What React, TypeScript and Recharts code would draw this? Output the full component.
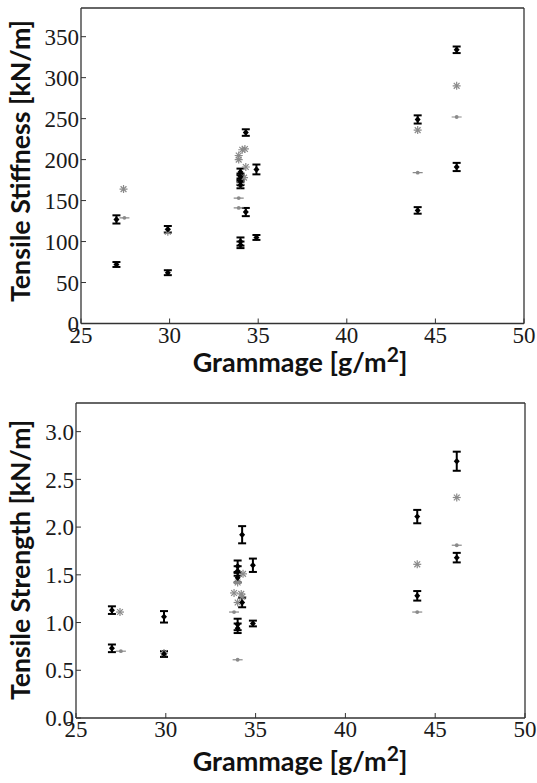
import React from "react";
import { ScatterChart, Scatter, XAxis, YAxis, ErrorBar } from "recharts";

// ---------- data ----------
const xTicks = [25, 30, 35, 40, 45, 50];
const stiffTicks = [0, 50, 100, 150, 200, 250, 300, 350];
const strTicks = [0, 0.5, 1.0, 1.5, 2.0, 2.5, 3.0];

// Tensile stiffness – measured (mean ± error)
const stiffMeasX = [27.0, 27.0, 29.9, 29.9, 34.0, 34.0, 34.0, 34.0, 34.0, 34.0, 34.3, 34.3, 34.9, 34.9, 44.0, 44.0, 46.2, 46.2];
const stiffMeasY = [127, 72, 115, 62, 185, 179, 173, 169, 100, 96, 233, 136, 188, 105, 249, 138, 334, 191];
const stiffMeasErr = [5, 3, 4, 3, 4, 4, 4, 4, 5, 4, 4, 5, 6, 3, 5, 4, 4, 5];
// Tensile stiffness – model A (asterisks)
const stiffStarX = [27.4, 29.9, 33.9, 33.9, 34.1, 34.25, 34.3, 34.2, 34.0, 44.0, 46.2];
const stiffStarY = [164, 112, 200, 205, 212, 213, 191, 178, 170, 236, 290];
// Tensile stiffness – model B (dots)
const stiffDotX = [27.45, 33.9, 33.9, 44.0, 46.2];
const stiffDotY = [129, 153, 141, 184, 252];

// Tensile strength – measured (mean ± error)
const strMeasX = [27.0, 27.0, 29.9, 29.9, 34.0, 34.0, 34.0, 34.0, 34.0, 34.25, 34.25, 34.85, 34.85, 44.0, 44.0, 46.2, 46.2];
const strMeasY = [1.13, 0.73, 1.06, 0.67, 1.59, 1.54, 1.47, 0.98, 0.94, 1.92, 1.21, 1.6, 0.99, 2.11, 1.28, 2.69, 1.68];
const strMeasErr = [0.04, 0.04, 0.06, 0.03, 0.06, 0.05, 0.05, 0.06, 0.05, 0.09, 0.05, 0.07, 0.03, 0.07, 0.05, 0.1, 0.05];
// Tensile strength – model A (asterisks)
const strStarX = [27.45, 29.9, 34.3, 34.0, 33.8, 34.2, 34.26, 34.0, 44.0, 46.2];
const strStarY = [1.11, 0.68, 1.51, 1.42, 1.31, 1.3, 1.27, 1.21, 1.61, 2.31];
// Tensile strength – model B (dots)
const strDotX = [27.5, 33.8, 34.0, 44.0, 46.2];
const strDotY = [0.7, 1.11, 0.61, 1.11, 1.81];

const zip = (xs: number[], ys: number[], es?: number[]) =>
  xs.map((x, i) => ({ x, y: ys[i], err: es ? es[i] : 0 }));

// ---------- shapes ----------
const GRAY = "#8a8a8a";
const AXIS = "#333";

const MeanMarker = (p: any) => {
  const { cx, cy } = p;
  if (cx == null || cy == null) return null;
  return <polygon points={`${cx},${cy - 3.2} ${cx + 3},${cy} ${cx},${cy + 3.2} ${cx - 3},${cy}`} fill="#000" />;
};
const StarMarker = (p: any) => {
  const { cx, cy } = p;
  if (cx == null || cy == null) return null;
  const r = 4;
  const d = 2.9;
  return (
    <g stroke={GRAY} strokeWidth={1.2}>
      <line x1={cx - r} y1={cy} x2={cx + r} y2={cy} />
      <line x1={cx} y1={cy - r} x2={cx} y2={cy + r} />
      <line x1={cx - d} y1={cy - d} x2={cx + d} y2={cy + d} />
      <line x1={cx - d} y1={cy + d} x2={cx + d} y2={cy - d} />
    </g>
  );
};
const DotMarker = (p: any) => {
  const { cx, cy } = p;
  if (cx == null || cy == null) return null;
  return (
    <g>
      <line x1={cx - 5} y1={cy} x2={cx + 5} y2={cy} stroke={GRAY} strokeWidth={1.2} />
      <circle cx={cx} cy={cy} r={1.9} fill={GRAY} />
    </g>
  );
};

const tickStyle = { fontFamily: "Liberation Serif", fontSize: 23, fill: "#1a1a1a" };
const labelFont = "Lato";

type PanelProps = {
  top: number;
  height: number;
  margin: { top: number; right: number; bottom: number; left: number };
  yDomain: [number, number];
  yTicks: number[];
  yFmt: (v: number) => string;
  meas: { x: number; y: number; err: number }[];
  stars: { x: number; y: number; err: number }[];
  dots: { x: number; y: number; err: number }[];
};

const Panel = ({ top, height, margin, yDomain, yTicks, yFmt, meas, stars, dots }: PanelProps) => (
  <div style={{ position: "absolute", left: 0, top, width: 537, height }}>
    <ScatterChart width={537} height={height} margin={margin}>
      <XAxis
        xAxisId="b"
        dataKey="x"
        type="number"
        domain={[25, 50]}
        ticks={xTicks}
        allowDataOverflow
        height={1}
        tickSize={-5}
        tickMargin={8}
        tick={tickStyle}
        tickLine={{ stroke: AXIS }}
        axisLine={{ stroke: AXIS, strokeWidth: 1.3 }}
      />
      <XAxis
        xAxisId="t"
        orientation="top"
        type="number"
        domain={[25, 50]}
        ticks={xTicks}
        height={1}
        tickSize={-5}
        tick={false}
        tickLine={{ stroke: AXIS }}
        axisLine={{ stroke: AXIS, strokeWidth: 1.3 }}
      />
      <YAxis
        yAxisId="l"
        dataKey="y"
        type="number"
        domain={yDomain}
        ticks={yTicks}
        allowDataOverflow
        width={1}
        tickSize={-5}
        tickMargin={7}
        tick={tickStyle}
        tickFormatter={yFmt}
        tickLine={{ stroke: AXIS }}
        axisLine={{ stroke: AXIS, strokeWidth: 1.3 }}
      />
      <YAxis
        yAxisId="r"
        orientation="right"
        type="number"
        domain={yDomain}
        ticks={yTicks}
        width={1}
        tickSize={-5}
        tick={false}
        tickLine={{ stroke: AXIS }}
        axisLine={{ stroke: AXIS, strokeWidth: 1.3 }}
      />
      <Scatter xAxisId="b" yAxisId="l" data={dots} shape={DotMarker} isAnimationActive={false} />
      <Scatter xAxisId="b" yAxisId="l" data={stars} shape={StarMarker} isAnimationActive={false} />
      <Scatter xAxisId="b" yAxisId="l" data={meas} shape={MeanMarker} isAnimationActive={false}>
        <ErrorBar dataKey="err" direction="y" width={4} stroke="#000" strokeWidth={2} />
      </Scatter>
    </ScatterChart>
  </div>
);

const XTitle = ({ y }: { y: number }) => (
  <text x={300} y={y} textAnchor="middle" fontFamily={labelFont} fontWeight={700} fontSize={27} fill="#111">
    Grammage [g/m
    <tspan dy={-10} fontSize={21}>2</tspan>
    <tspan dy={10}>]</tspan>
  </text>
);
const YTitle = ({ cy, text, len }: { cy: number; text: string; len: number }) => (
  <text
    x={0}
    y={0}
    transform={`translate(30 ${cy}) rotate(-90)`}
    textAnchor="middle"
    fontFamily={labelFont}
    fontWeight={700}
    fontSize={27}
    fill="#111"
    textLength={len}
    lengthAdjust="spacingAndGlyphs"
  >
    {text}
  </text>
);

export default function App() {
  return (
    <div style={{ position: "absolute", left: 0, top: 0, width: 537, height: 783, background: "#fff" }}>
      <Panel
        top={0}
        height={392}
        margin={{ top: 7, right: 12, bottom: 67.5, left: 80 }}
        yDomain={[0, 385]}
        yTicks={stiffTicks}
        yFmt={(v) => String(v)}
        meas={zip(stiffMeasX, stiffMeasY, stiffMeasErr)}
        stars={zip(stiffStarX, stiffStarY)}
        dots={zip(stiffDotX, stiffDotY)}
      />
      <Panel
        top={392}
        height={391}
        margin={{ top: 10, right: 11, bottom: 64, left: 75 }}
        yDomain={[0, 3.3]}
        yTicks={strTicks}
        yFmt={(v) => v.toFixed(1)}
        meas={zip(strMeasX, strMeasY, strMeasErr)}
        stars={zip(strStarX, strStarY)}
        dots={zip(strDotX, strDotY)}
      />
      <svg width={537} height={783} style={{ position: "absolute", left: 0, top: 0, pointerEvents: "none" }}>
        <YTitle cy={161} text="Tensile Stiffness [kN/m]" len={282} />
        <XTitle y={372} />
        <YTitle cy={560} text="Tensile Strength [kN/m]" len={280} />
        <XTitle y={771} />
      </svg>
    </div>
  );
}
